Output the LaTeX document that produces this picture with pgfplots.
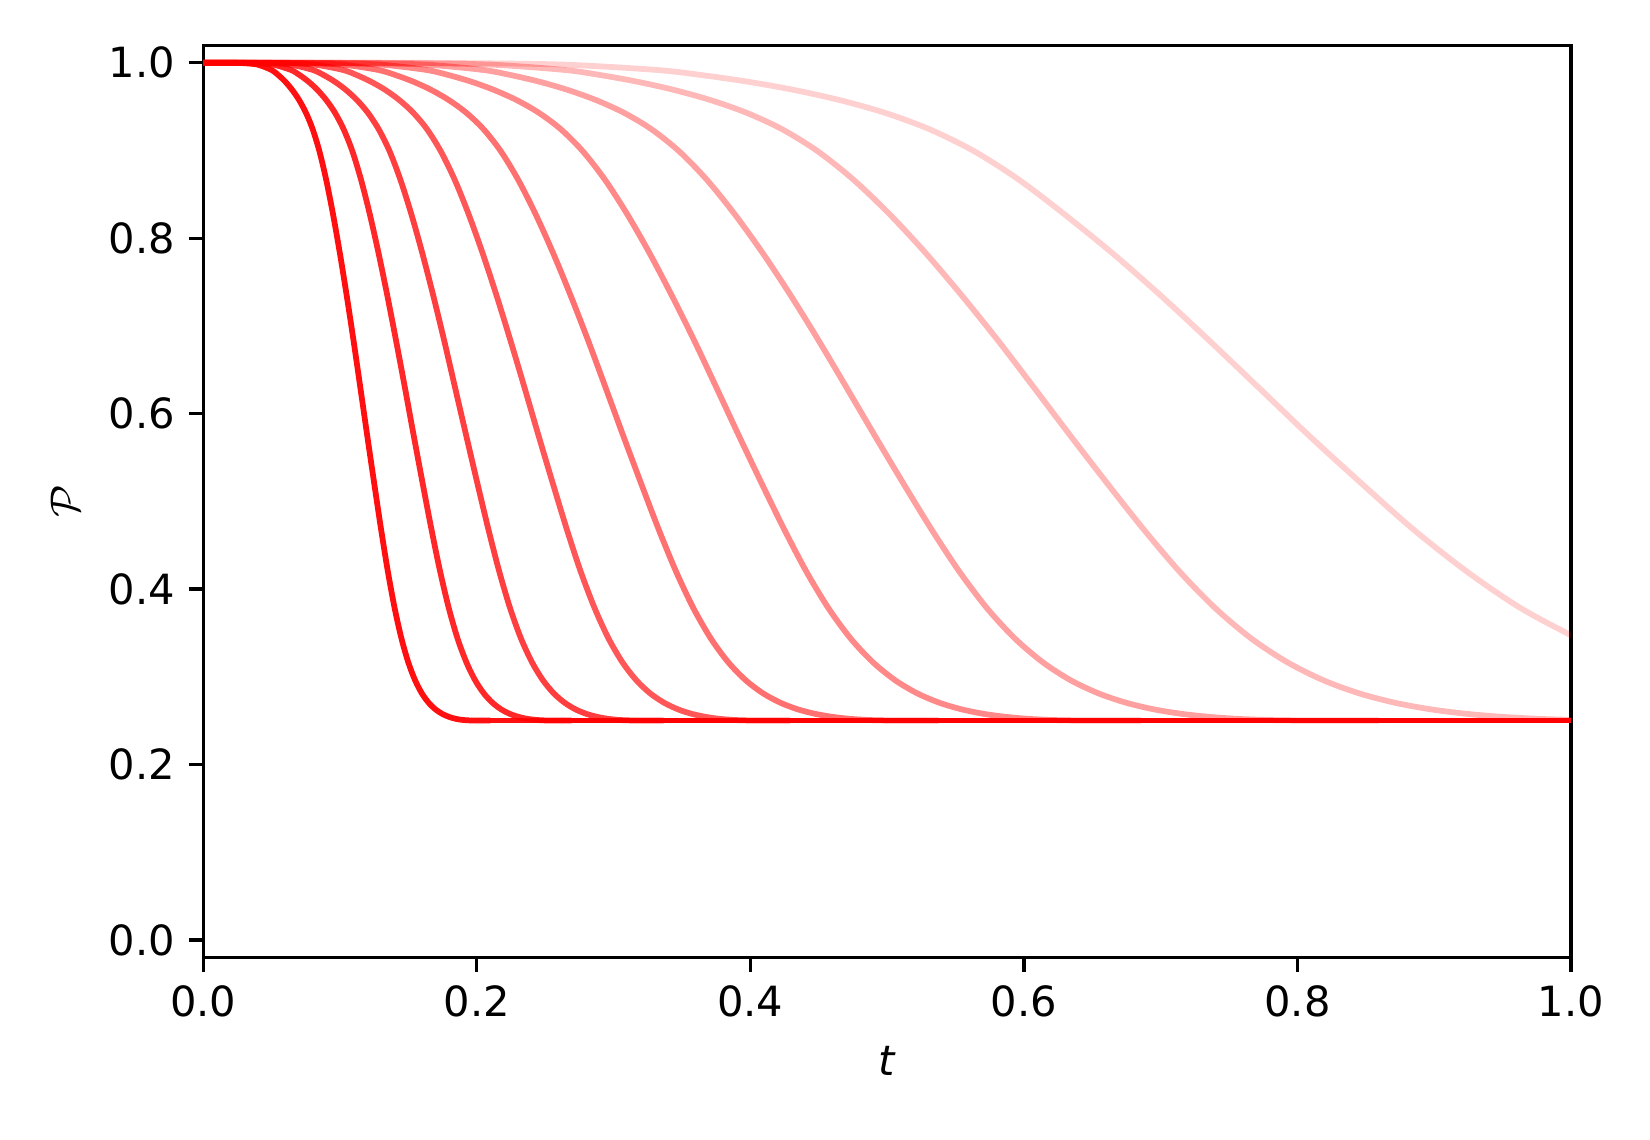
\documentclass[border=0pt]{standalone}
\usepackage{fontspec}
\setmainfont{DejaVu Sans}
\usepackage{pgfplots}
\pgfplotsset{compat=1.18}

\begin{document}
\begin{tikzpicture}
\useasboundingbox (-53.0bp,-47.6bp) rectangle (377.5bp,249.8bp);
\begin{axis}[
    at={(0,0)}, anchor=south west,
    scale only axis,
    width=356.9bp, height=238bp,
    xmin=0, xmax=1, ymin=-0.02, ymax=1.02,
    xtick={0,0.2,0.4,0.6,0.8,1.0},
    ytick={0,0.2,0.4,0.6,0.8,1.0},
    tick align=outside, tick pos=left,
    major tick length=3.8bp,
    every tick/.style={black, line width=0.85bp},
    axis line style={line width=0.85bp},
    tick label style={font=\fontsize{10.9}{13}\selectfont},
    label style={font=\fontsize{10.9}{13}\selectfont},
    /pgf/number format/.cd, fixed, fixed zerofill, precision=1, assume math mode=true,
    /pgfplots/.cd,
    xlabel={\textit{t}},
    ylabel={$\mathcal{P}$},
    xlabel style={at={(axis description cs:0.5,0)}, anchor=center, yshift=-27bp},
    ylabel style={at={(axis description cs:0,0.5)}, anchor=center, yshift=36bp},
    every axis plot/.append style={line width=1.5bp},
    curve/.style={red, opacity=#1, smooth},
    flat/.style={red, opacity=#1},
]

% curve 1 (fastest decay)
\addplot[curve=0.94] coordinates {
(0,1.0) (0.02,1.0) (0.03,0.9995) (0.04,0.9978) (0.05,0.9918) (0.055,0.9859) (0.06,0.9785)
(0.065,0.9693) (0.07,0.9579) (0.075,0.9435) (0.08,0.9246) (0.085,0.8992) (0.09,0.8663)
(0.095,0.8269) (0.1,0.7825) (0.105,0.7341) (0.11,0.6827) (0.115,0.6288) (0.12,0.5744)
(0.125,0.5211) (0.13,0.4689) (0.135,0.4204) (0.14,0.3782) (0.145,0.3435) (0.15,0.3163)
(0.155,0.2958) (0.16,0.2808) (0.165,0.2701) (0.17,0.2626) (0.175,0.2575) (0.18,0.2541)
(0.185,0.2519) (0.19,0.2507) (0.195,0.2502) (0.2,0.25) (0.21,0.25)
};
\addplot[flat=0.94] coordinates {(0.21,0.25) (1.0,0.25)};

% curve 2
\addplot[curve=0.846] coordinates {
(0,1.0) (0.0257,1.0) (0.0385,0.9995) (0.0513,0.9978) (0.0642,0.9918) (0.0706,0.9859) (0.077,0.9785)
(0.0834,0.9693) (0.0898,0.9579) (0.0962,0.9435) (0.1026,0.9246) (0.1091,0.8992) (0.1155,0.8663)
(0.1219,0.8269) (0.1283,0.7825) (0.1347,0.7341) (0.1411,0.6827) (0.1476,0.6288) (0.154,0.5744)
(0.1604,0.5211) (0.1668,0.4689) (0.1732,0.4204) (0.1796,0.3782) (0.186,0.3435) (0.1925,0.3163)
(0.1989,0.2958) (0.2053,0.2808) (0.2117,0.2701) (0.2181,0.2626) (0.2245,0.2575) (0.2309,0.2541)
(0.2374,0.2519) (0.2438,0.2507) (0.2502,0.2502) (0.2566,0.25) (0.2694,0.25)
};
\addplot[flat=0.846] coordinates {(0.2694,0.25) (1.0,0.25)};

% curve 3
\addplot[curve=0.751] coordinates {
(0,1.0) (0.0321,1.0) (0.0481,0.9995) (0.0641,0.9978) (0.0802,0.9918) (0.0882,0.9859) (0.0962,0.9785)
(0.1042,0.9693) (0.1122,0.9579) (0.1202,0.9435) (0.1282,0.9246) (0.1363,0.8992) (0.1443,0.8663)
(0.1523,0.8269) (0.1603,0.7825) (0.1683,0.7341) (0.1763,0.6827) (0.1843,0.6288) (0.1924,0.5744)
(0.2004,0.5211) (0.2084,0.4689) (0.2164,0.4204) (0.2244,0.3782) (0.2324,0.3435) (0.2405,0.3163)
(0.2485,0.2958) (0.2565,0.2808) (0.2645,0.2701) (0.2725,0.2626) (0.2805,0.2575) (0.2885,0.2541)
(0.2966,0.2519) (0.3046,0.2507) (0.3126,0.2502) (0.3206,0.25) (0.3366,0.25)
};
\addplot[flat=0.751] coordinates {(0.3366,0.25) (1.0,0.25)};

% curve 4
\addplot[curve=0.657] coordinates {
(0,1.0) (0.0409,1.0) (0.0613,0.9995) (0.0818,0.9978) (0.1022,0.9918) (0.1124,0.9859) (0.1226,0.9785)
(0.1329,0.9693) (0.1431,0.9579) (0.1533,0.9435) (0.1635,0.9246) (0.1737,0.8992) (0.184,0.8663)
(0.1942,0.8269) (0.2044,0.7825) (0.2146,0.7341) (0.2248,0.6827) (0.2351,0.6288) (0.2453,0.5744)
(0.2555,0.5211) (0.2657,0.4689) (0.2759,0.4204) (0.2862,0.3782) (0.2964,0.3435) (0.3066,0.3163)
(0.3168,0.2958) (0.327,0.2808) (0.3373,0.2701) (0.3475,0.2626) (0.3577,0.2575) (0.3679,0.2541)
(0.3781,0.2519) (0.3884,0.2507) (0.3986,0.2502) (0.4088,0.25) (0.4292,0.25)
};
\addplot[flat=0.657] coordinates {(0.4292,0.25) (1.0,0.25)};

% curve 5
\addplot[curve=0.562] coordinates {
(0,1.0) (0.0512,1.0) (0.0768,0.9995) (0.1024,0.9978) (0.128,0.9918) (0.1408,0.9859) (0.1536,0.9785)
(0.1664,0.9693) (0.1792,0.9579) (0.192,0.9435) (0.2048,0.9246) (0.2176,0.8992) (0.2304,0.8663)
(0.2432,0.8269) (0.256,0.7825) (0.2688,0.7341) (0.2816,0.6827) (0.2944,0.6288) (0.3072,0.5744)
(0.32,0.5211) (0.3328,0.4689) (0.3456,0.4204) (0.3584,0.3782) (0.3712,0.3435) (0.384,0.3163)
(0.3968,0.2958) (0.4096,0.2808) (0.4224,0.2701) (0.4352,0.2626) (0.448,0.2575) (0.4608,0.2541)
(0.4736,0.2519) (0.4864,0.2507) (0.4992,0.2502) (0.512,0.25) (0.5376,0.25)
};
\addplot[flat=0.562] coordinates {(0.5376,0.25) (1.0,0.25)};

% curve 6
\addplot[curve=0.468] coordinates {
(0,1.0) (0.0653,1.0) (0.098,0.9995) (0.1306,0.9978) (0.1633,0.9918) (0.1796,0.9859) (0.1959,0.9785)
(0.2122,0.9693) (0.2286,0.9579) (0.2449,0.9435) (0.2612,0.9246) (0.2775,0.8992) (0.2939,0.8663)
(0.3102,0.8269) (0.3265,0.7825) (0.3428,0.7341) (0.3592,0.6827) (0.3755,0.6288) (0.3918,0.5744)
(0.4081,0.5211) (0.4245,0.4689) (0.4408,0.4204) (0.4571,0.3782) (0.4734,0.3435) (0.4898,0.3163)
(0.5061,0.2958) (0.5224,0.2808) (0.5387,0.2701) (0.5551,0.2626) (0.5714,0.2575) (0.5877,0.2541)
(0.604,0.2519) (0.6204,0.2507) (0.6367,0.2502) (0.653,0.25) (0.6857,0.25)
};
\addplot[flat=0.468] coordinates {(0.6857,0.25) (1.0,0.25)};

% curve 7
\addplot[curve=0.373] coordinates {
(0,1.0) (0.0819,1.0) (0.1228,0.9995) (0.1637,0.9978) (0.2047,0.9918) (0.2251,0.9859) (0.2456,0.9785)
(0.266,0.9693) (0.2865,0.9579) (0.307,0.9435) (0.3274,0.9246) (0.3479,0.8992) (0.3684,0.8663)
(0.3888,0.8269) (0.4093,0.7825) (0.4298,0.7341) (0.4502,0.6827) (0.4707,0.6288) (0.4912,0.5744)
(0.5116,0.5211) (0.5321,0.4689) (0.5526,0.4204) (0.573,0.3782) (0.5935,0.3435) (0.614,0.3163)
(0.6344,0.2958) (0.6549,0.2808) (0.6753,0.2701) (0.6958,0.2626) (0.7163,0.2575) (0.7367,0.2541)
(0.7572,0.2519) (0.7777,0.2507) (0.7981,0.2502) (0.8186,0.25) (0.8595,0.25)
};
\addplot[flat=0.373] coordinates {(0.8595,0.25) (1.0,0.25)};

% curve 8
\addplot[curve=0.279] coordinates {
(0,1.0) (0.1057,1.0) (0.1586,0.9995) (0.2114,0.9978) (0.2643,0.9918) (0.2907,0.9859) (0.3171,0.9785)
(0.3435,0.9693) (0.37,0.9579) (0.3964,0.9435) (0.4228,0.9246) (0.4492,0.8992) (0.4757,0.8663)
(0.5021,0.8269) (0.5285,0.7825) (0.5549,0.7341) (0.5814,0.6827) (0.6078,0.6288) (0.6342,0.5744)
(0.6606,0.5211) (0.6871,0.4689) (0.7135,0.4204) (0.7399,0.3782) (0.7663,0.3435) (0.7928,0.3163)
(0.8192,0.2958) (0.8456,0.2808) (0.872,0.2701) (0.8985,0.2626) (0.9249,0.2575) (0.9513,0.2541)
(0.9777,0.2519) (1.0042,0.2507)
};

% curve 9 (slowest decay)
\addplot[curve=0.184] coordinates {
(0,1.0) (0.1326,1.0) (0.1989,0.9995) (0.2652,0.9978) (0.3315,0.9918) (0.3647,0.9859) (0.3978,0.9785)
(0.431,0.9693) (0.4641,0.9579) (0.4973,0.9435) (0.5304,0.9246) (0.5636,0.8992) (0.5967,0.8663)
(0.6299,0.8269) (0.665,0.7825) (0.7004,0.7341) (0.7359,0.6827) (0.7722,0.6288) (0.8088,0.5744)
(0.8463,0.5211) (0.884,0.4689) (0.9234,0.4204) (0.9632,0.3782) (1.0049,0.3435) (1.0425,0.3163)
};

\end{axis}
\end{tikzpicture}
\end{document}
